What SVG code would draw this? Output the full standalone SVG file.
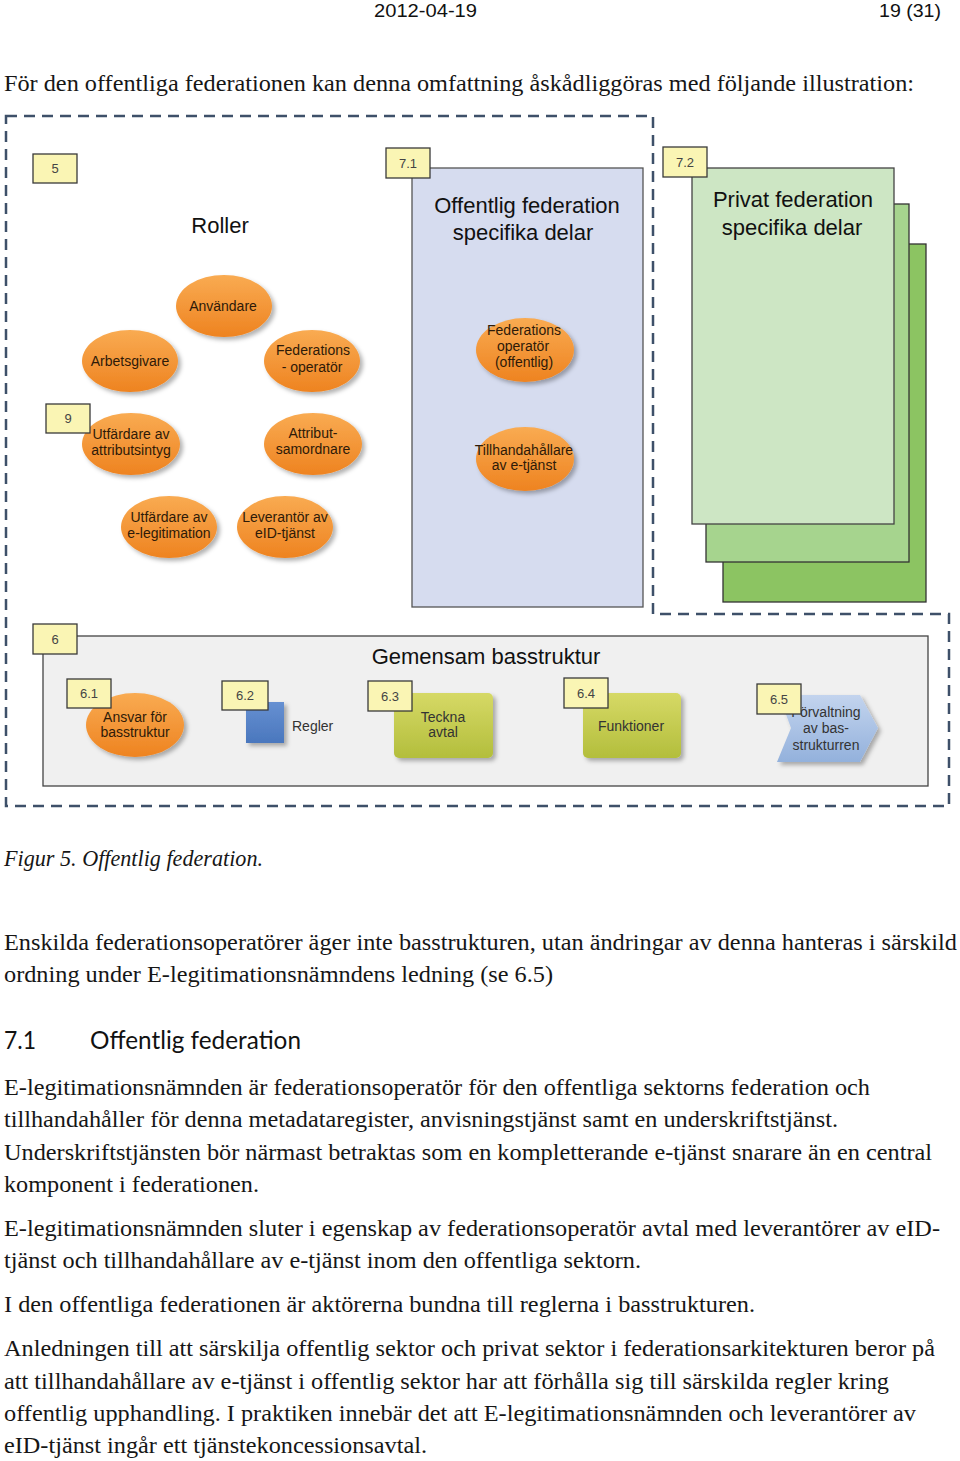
<svg xmlns="http://www.w3.org/2000/svg" width="960" height="1461" viewBox="0 0 960 1461">
<defs>
<linearGradient id="gOr" x1="0" y1="0" x2="0" y2="1"><stop offset="0" stop-color="#f9ab52"/><stop offset="1" stop-color="#ee8320"/></linearGradient>
<linearGradient id="gOl" x1="0" y1="0" x2="0" y2="1"><stop offset="0" stop-color="#d6d966"/><stop offset="1" stop-color="#b3be3c"/></linearGradient>
<linearGradient id="gCh" x1="0" y1="0" x2="0" y2="1"><stop offset="0" stop-color="#c3d4ee"/><stop offset="1" stop-color="#93b1dc"/></linearGradient>
<linearGradient id="gBl" x1="0" y1="0" x2="0" y2="1"><stop offset="0" stop-color="#6690d2"/><stop offset="1" stop-color="#4a77bd"/></linearGradient>
<filter id="sh" x="-20%" y="-20%" width="150%" height="150%"><feDropShadow dx="3" dy="3" stdDeviation="2" flood-color="#000" flood-opacity="0.3"/></filter>
</defs>
<style>
.lbl{fill:#faf5b4;stroke:#3a3a3a;stroke-width:1.3}
.lt{font-family:"Liberation Sans",Arial,sans-serif;font-size:13px;fill:#444;text-anchor:middle}
.ell{fill:url(#gOr);filter:url(#sh)}
.et{font-family:"Liberation Sans",Arial,sans-serif;font-size:14px;fill:#2e1a08;text-anchor:middle}
.big{font-family:"Liberation Sans",Arial,sans-serif;font-size:22px;fill:#111;text-anchor:middle}
.body{font-family:"Liberation Serif","Times New Roman",serif;font-size:24px;fill:#161616}
.hdr{font-family:"Liberation Sans",Arial,sans-serif;font-size:19px;fill:#111}
.ol{fill:url(#gOl);filter:url(#sh)}
.ot{font-family:"Liberation Sans",Arial,sans-serif;font-size:14px;fill:#333;text-anchor:middle}
.h2{font-family:Lato,"Open Sans",sans-serif;font-size:25px;fill:#111}
</style>

<text class="hdr" x="374" y="17" textLength="103" lengthAdjust="spacingAndGlyphs">2012-04-19</text>
<text class="hdr" x="879" y="17" textLength="62" lengthAdjust="spacingAndGlyphs">19 (31)</text>
<text class="body" x="4" y="91" textLength="910" lengthAdjust="spacingAndGlyphs">För den offentliga federationen kan denna omfattning åskådliggöras med följande illustration:</text>

<g id="outline"><path d="M6,116 H653 V614 H949 V806 H6 Z" fill="none" stroke="#3e5069" stroke-width="2.5" stroke-dasharray="11 7"/></g>

<g id="roller">
<rect class="lbl" x="33" y="154" width="44" height="29"/><text class="lt" x="55" y="173">5</text>
<text class="big" x="220" y="233">Roller</text>
</g>
<g id="anvandare"><ellipse class="ell" cx="224" cy="306" rx="48" ry="31"/><text class="et" x="223" y="311">Användare</text></g>
<g id="arbetsgivare"><ellipse class="ell" cx="130" cy="361" rx="48" ry="31"/><text class="et" x="130" y="366">Arbetsgivare</text></g>
<g id="fedop"><ellipse class="ell" cx="312" cy="361" rx="48" ry="31"/><text class="et" x="313" y="355">Federations</text><text class="et" x="312" y="372">- operatör</text></g>
<g id="utf-attr"><ellipse class="ell" cx="131" cy="444" rx="49" ry="31"/><text class="et" x="131" y="439">Utfärdare av</text><text class="et" x="131" y="455">attributsintyg</text>
<rect class="lbl" x="46" y="404" width="44" height="29"/><text class="lt" x="68" y="423">9</text></g>
<g id="attrib"><ellipse class="ell" cx="313" cy="444" rx="49" ry="31"/><text class="et" x="313" y="438">Attribut-</text><text class="et" x="313" y="454">samordnare</text></g>
<g id="utf-eleg"><ellipse class="ell" cx="169" cy="527" rx="48" ry="31"/><text class="et" x="169" y="522">Utfärdare av</text><text class="et" x="169" y="538">e-legitimation</text></g>
<g id="leverantor"><ellipse class="ell" cx="285" cy="527" rx="48" ry="31"/><text class="et" x="285" y="522">Leverantör av</text><text class="et" x="285" y="538">eID-tjänst</text></g>

<g id="offentlig">
<rect x="412" y="168" width="231" height="439" fill="#d6dcef" stroke="#555" stroke-width="1.3"/>
<rect class="lbl" x="386" y="148" width="44" height="30"/><text class="lt" x="408" y="168">7.1</text>
<text class="big" x="527" y="213">Offentlig federation</text>
<text class="big" x="523" y="240">specifika delar</text>
</g>
<g id="fedop-off"><ellipse class="ell" cx="525" cy="350" rx="49" ry="32"/><text class="et" x="524" y="335">Federations</text><text class="et" x="523" y="351">operatör</text><text class="et" x="524" y="367">(offentlig)</text></g>
<g id="tillh"><ellipse class="ell" cx="525" cy="459" rx="49" ry="32"/><text class="et" x="524" y="455">Tillhandahållare</text><text class="et" x="524" y="470">av e-tjänst</text></g>

<g id="privat">
<rect x="723" y="244" width="203" height="358" fill="#8cc462" stroke="#333" stroke-width="1.3"/>
<rect x="706" y="204" width="203" height="358" fill="#a6d48e" stroke="#333" stroke-width="1.3"/>
<rect x="692" y="168" width="202" height="356" fill="#cde6c4" stroke="#444" stroke-width="1.3"/>
<rect class="lbl" x="663" y="147" width="44" height="30"/><text class="lt" x="685" y="167">7.2</text>
<text class="big" x="793" y="207">Privat federation</text>
<text class="big" x="792" y="235">specifika delar</text>
</g>

<g id="basstruktur">
<rect x="43" y="636" width="885" height="150" fill="#f0f0f0" stroke="#444" stroke-width="1.3"/>
<rect class="lbl" x="33" y="624" width="44" height="30"/><text class="lt" x="55" y="644">6</text>
<text class="big" x="486" y="664">Gemensam basstruktur</text>
</g>
<g id="n61"><ellipse class="ell" cx="135" cy="725" rx="49" ry="32"/><text class="et" x="135" y="722">Ansvar för</text><text class="et" x="135" y="737">basstruktur</text>
<rect class="lbl" x="67" y="679" width="44" height="29"/><text class="lt" x="89" y="698">6.1</text></g>
<g id="n62"><rect x="246" y="702" width="38" height="41" fill="url(#gBl)" filter="url(#sh)"/><text class="ot" x="292" y="731" style="text-anchor:start">Regler</text>
<rect class="lbl" x="222" y="681" width="46" height="29"/><text class="lt" x="245" y="700">6.2</text></g>
<g id="n63"><rect class="ol" x="394" y="693" width="99" height="65" rx="5"/><text class="ot" x="443" y="722">Teckna</text><text class="ot" x="443" y="737">avtal</text>
<rect class="lbl" x="368" y="681" width="44" height="30"/><text class="lt" x="390" y="701">6.3</text></g>
<g id="n64"><rect class="ol" x="583" y="693" width="98" height="65" rx="5"/><text class="ot" x="631" y="731">Funktioner</text>
<rect class="lbl" x="564" y="678" width="44" height="30"/><text class="lt" x="586" y="698">6.4</text></g>
<g id="n65"><polygon points="779,695 860,695 878,728 860,762 777,762 791,728" fill="url(#gCh)" filter="url(#sh)"/>
<text class="ot" x="826" y="717">Förvaltning</text><text class="ot" x="826" y="733">av bas-</text><text class="ot" x="826" y="750">strukturren</text>
<rect class="lbl" x="757" y="684" width="44" height="30"/><text class="lt" x="779" y="704">6.5</text></g>

<g id="connectors"></g>

<text class="body" x="4" y="866" font-style="italic" textLength="259" lengthAdjust="spacingAndGlyphs">Figur 5. Offentlig federation.</text>
<text class="body" x="4" y="950" textLength="953" lengthAdjust="spacingAndGlyphs">Enskilda federationsoperatörer äger inte basstrukturen, utan ändringar av denna hanteras i särskild</text>
<text class="body" x="4" y="982" textLength="549" lengthAdjust="spacingAndGlyphs">ordning under E-legitimationsnämndens ledning (se 6.5)</text>
<text class="h2" x="4" y="1049" textLength="32" lengthAdjust="spacingAndGlyphs">7.1</text>
<text class="h2" x="90" y="1049" textLength="211" lengthAdjust="spacingAndGlyphs">Offentlig federation</text>
<text class="body" x="4" y="1095" textLength="866" lengthAdjust="spacingAndGlyphs">E-legitimationsnämnden är federationsoperatör för den offentliga sektorns federation och</text>
<text class="body" x="4" y="1127" textLength="834" lengthAdjust="spacingAndGlyphs">tillhandahåller för denna metadataregister, anvisningstjänst samt en underskriftstjänst.</text>
<text class="body" x="4" y="1160" textLength="928" lengthAdjust="spacingAndGlyphs">Underskriftstjänsten bör närmast betraktas som en kompletterande e-tjänst snarare än en central</text>
<text class="body" x="4" y="1192" textLength="255" lengthAdjust="spacingAndGlyphs">komponent i federationen.</text>
<text class="body" x="4" y="1236" textLength="936" lengthAdjust="spacingAndGlyphs">E-legitimationsnämnden sluter i egenskap av federationsoperatör avtal med leverantörer av eID-</text>
<text class="body" x="4" y="1268" textLength="637" lengthAdjust="spacingAndGlyphs">tjänst och tillhandahållare av e-tjänst inom den offentliga sektorn.</text>
<text class="body" x="4" y="1312" textLength="751" lengthAdjust="spacingAndGlyphs">I den offentliga federationen är aktörerna bundna till reglerna i basstrukturen.</text>
<text class="body" x="4" y="1356" textLength="931" lengthAdjust="spacingAndGlyphs">Anledningen till att särskilja offentlig sektor och privat sektor i federationsarkitekturen beror på</text>
<text class="body" x="4" y="1389" textLength="885" lengthAdjust="spacingAndGlyphs">att tillhandahållare av e-tjänst i offentlig sektor har att förhålla sig till särskilda regler kring</text>
<text class="body" x="4" y="1421" textLength="912" lengthAdjust="spacingAndGlyphs">offentlig upphandling. I praktiken innebär det att E-legitimationsnämnden och leverantörer av</text>
<text class="body" x="4" y="1453" textLength="423" lengthAdjust="spacingAndGlyphs">eID-tjänst ingår ett tjänstekoncessionsavtal.</text>
</svg>
